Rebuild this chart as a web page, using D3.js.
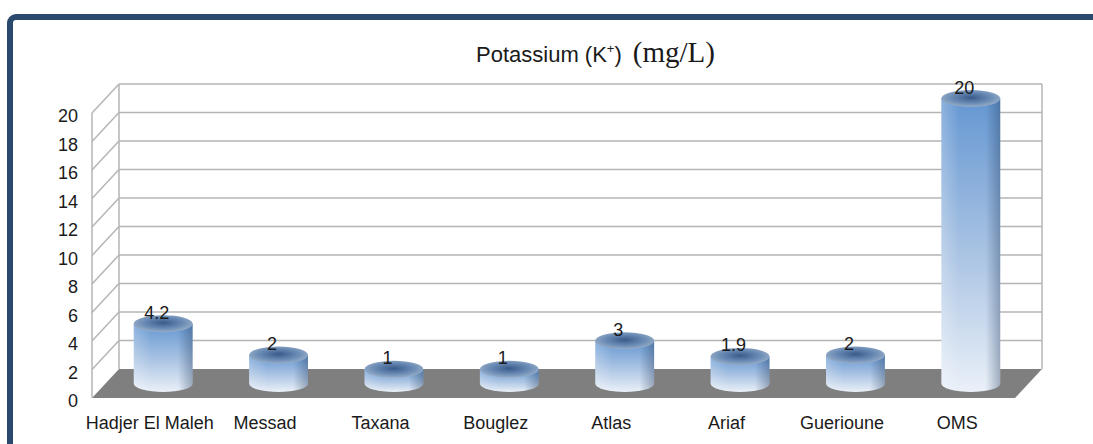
<!DOCTYPE html>
<html>
<head>
<meta charset="utf-8">
<script src="https://cdn.jsdelivr.net/npm/d3@7"></script>
<style>
  body { margin: 0; background: #fff; }
  svg { display: block; }
</style>
</head>
<body>
<svg id="chart"></svg>
<script>
const WIDTH = 1093;
const HEIGHT = 444;

const sites = ["Hadjer El Maleh", "Messad", "Taxana", "Bouglez", "Atlas", "Ariaf", "Guerioune", "OMS"];
const potassium = [4.2, 2, 1, 1, 3, 1.9, 2, 20];
const yTicks = [0, 2, 4, 6, 8, 10, 12, 14, 16, 18, 20];

// 3D depth offset of the back wall
const DX = 27;
const DY = -29;

const svg = d3.select("#chart").attr("width", WIDTH).attr("height", HEIGHT);

const data = sites.map((site, i) => ({ site, value: potassium[i] }));

const xScale = d3.scaleBand().domain(sites).range([92, 1015]);
const yScale = d3.scaleLinear().domain([0, 20]).range([398, 113]);

const defs = svg.append("defs");

const body = defs.append("linearGradient").attr("id", "bodyV").attr("x1", 0).attr("y1", 0).attr("x2", 0).attr("y2", 1);
body.append("stop").attr("offset", 0).attr("stop-color", "#6597d2");
body.append("stop").attr("offset", 0.5).attr("stop-color", "#a6c1e2");
body.append("stop").attr("offset", 1).attr("stop-color", "#eaf0f8");

const shade = defs.append("linearGradient").attr("id", "bodyH").attr("x1", 0).attr("y1", 0).attr("x2", 1).attr("y2", 0);
shade.append("stop").attr("offset", 0).attr("stop-color", "#ffffff").attr("stop-opacity", 0.25);
shade.append("stop").attr("offset", 0.3).attr("stop-color", "#ffffff").attr("stop-opacity", 0);
shade.append("stop").attr("offset", 0.75).attr("stop-color", "#1e3656").attr("stop-opacity", 0);
shade.append("stop").attr("offset", 1).attr("stop-color", "#1e3656").attr("stop-opacity", 0.35);

const cap = defs.append("radialGradient").attr("id", "cap").attr("cx", 0.5).attr("cy", 0.45).attr("r", 0.6);
cap.append("stop").attr("offset", 0).attr("stop-color", "#395b8a");
cap.append("stop").attr("offset", 0.55).attr("stop-color", "#6a8bb5");
cap.append("stop").attr("offset", 1).attr("stop-color", "#a0b4cb");

// frame
svg.append("rect")
  .attr("x", 10).attr("y", 17)
  .attr("width", 1200).attr("height", 600)
  .attr("rx", 6)
  .attr("fill", "#fff")
  .attr("stroke", "#2b496d")
  .attr("stroke-width", 6);

const x0 = xScale.range()[0];
const x1 = xScale.range()[1];
const grid = "#b5b5b5";

// floor
svg.append("path")
  .attr("d", `M${x0},${yScale(0)} L${x1},${yScale(0)} L${x1 + DX},${yScale(0) + DY} L${x0 + DX},${yScale(0) + DY} Z`)
  .attr("fill", "#7f7f7f");

// back wall gridlines
svg.append("g")
  .selectAll("line")
  .data(yTicks.filter((d) => d > 0))
  .join("line")
  .attr("x1", x0 + DX).attr("x2", x1 + DX)
  .attr("y1", (d) => yScale(d) + DY).attr("y2", (d) => yScale(d) + DY)
  .attr("stroke", grid).attr("stroke-width", 1.5);

// side wall diagonals
svg.append("g")
  .selectAll("line")
  .data(yTicks.filter((d) => d > 0))
  .join("line")
  .attr("x1", x0).attr("x2", x0 + DX)
  .attr("y1", (d) => yScale(d)).attr("y2", (d) => yScale(d) + DY)
  .attr("stroke", grid).attr("stroke-width", 1.5);

// wall edges
svg.append("line")
  .attr("x1", x0).attr("x2", x0)
  .attr("y1", yScale(20)).attr("y2", yScale(0))
  .attr("stroke", grid).attr("stroke-width", 1.5);
svg.append("line")
  .attr("x1", x0 + DX).attr("x2", x0 + DX)
  .attr("y1", yScale(20) + DY).attr("y2", yScale(0) + DY)
  .attr("stroke", grid).attr("stroke-width", 1.5);
svg.append("line")
  .attr("x1", x1 + DX).attr("x2", x1 + DX)
  .attr("y1", yScale(20) + DY).attr("y2", yScale(0) + DY)
  .attr("stroke", grid).attr("stroke-width", 1.5);

// y tick labels
svg.append("g")
  .selectAll("text")
  .data(yTicks)
  .join("text")
  .attr("x", 78)
  .attr("y", (d) => yScale(d) + 3)
  .attr("dy", "0.35em")
  .attr("text-anchor", "end")
  .attr("font-family", "Liberation Sans, Arial, sans-serif")
  .attr("font-size", "18px")
  .attr("fill", "#1a1a1a")
  .text((d) => d);

// x labels
svg.append("g")
  .selectAll("text")
  .data(sites)
  .join("text")
  .attr("x", (d) => xScale(d) + xScale.bandwidth() / 2)
  .attr("y", 429)
  .attr("text-anchor", "middle")
  .attr("font-family", "Liberation Sans, Arial, sans-serif")
  .attr("font-size", "18px")
  .attr("fill", "#1a1a1a")
  .text((d) => d);

// cylinders
const rx = xScale.bandwidth() * 0.255;
const ry = 8.5;
const cylinders = svg.append("g")
  .selectAll("g")
  .data(data)
  .join("g");

const cx = (d) => xScale(d.site) + xScale.bandwidth() / 2 + DX / 2;
const yTop = (d) => yScale(d.value) + DY / 2;
const yBot = () => yScale(0) + DY / 2;
const bodyPath = (d) =>
  `M${cx(d) - rx},${yTop(d)} L${cx(d) - rx},${yBot()} A${rx},${ry} 0 0 0 ${cx(d) + rx},${yBot()} L${cx(d) + rx},${yTop(d)} Z`;

cylinders.append("path").attr("d", bodyPath).attr("fill", "url(#bodyV)");
cylinders.append("path").attr("d", bodyPath).attr("fill", "url(#bodyH)");
cylinders.append("ellipse")
  .attr("cx", cx)
  .attr("cy", yTop)
  .attr("rx", rx)
  .attr("ry", ry)
  .attr("fill", "url(#cap)");

// value labels
svg.append("g")
  .selectAll("text")
  .data(data)
  .join("text")
  .attr("x", (d) => xScale(d.site) + xScale.bandwidth() / 2 + 7)
  .attr("y", (d) => yTop(d) - 5)
  .attr("text-anchor", "middle")
  .attr("font-family", "Liberation Sans, Arial, sans-serif")
  .attr("font-size", "18px")
  .attr("fill", "#1a1a1a")
  .text((d) => d.value);

// title
const title = svg.append("text")
  .attr("x", 476)
  .attr("y", 62)
  .attr("fill", "#1a1a1a");
title.append("tspan")
  .attr("font-family", "Liberation Sans, Arial, sans-serif")
  .attr("font-size", "22px")
  .text("Potassium (K");
title.append("tspan")
  .attr("font-family", "Liberation Sans, Arial, sans-serif")
  .attr("font-size", "13px")
  .attr("dy", -9)
  .text("+");
title.append("tspan")
  .attr("font-family", "Liberation Sans, Arial, sans-serif")
  .attr("font-size", "22px")
  .attr("dy", 9)
  .text(")");
title.append("tspan")
  .attr("font-family", "Liberation Serif, Times New Roman, serif")
  .attr("font-size", "29px")
  .attr("dx", 11)
  .text("(mg/L)");
</script>
</body>
</html>
